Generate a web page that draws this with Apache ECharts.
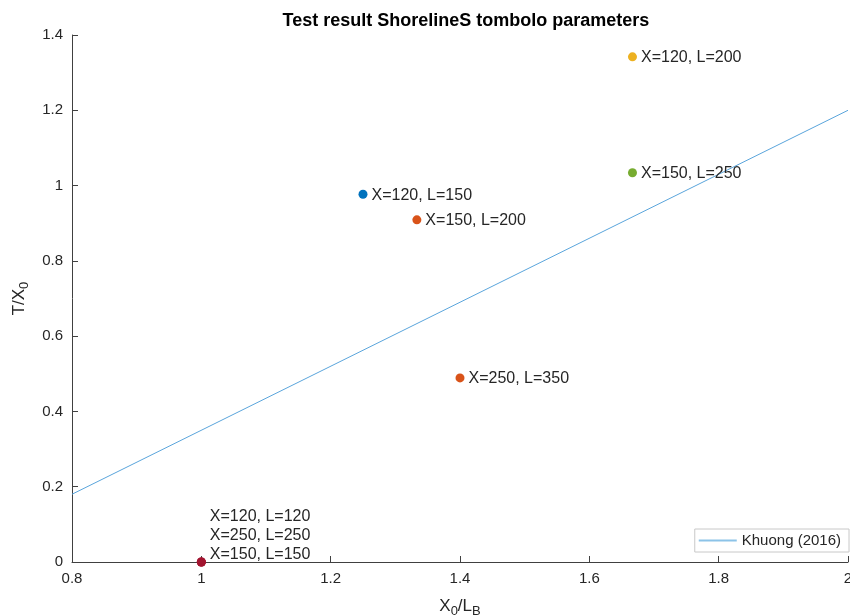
<!DOCTYPE html>
<html>
<head>
<meta charset="utf-8">
<script src="https://cdn.jsdelivr.net/npm/echarts@6/dist/echarts.min.js"></script>
<style>html,body{margin:0;padding:0;background:#fff}#c{width:850px;height:616px}</style>
</head>
<body>
<div id="c"></div>
<script>
// ---- data ----
const pointX = [1.25, 1.3333, 1.6667, 1.6667, 1.4, 1, 1, 1];
const pointY = [0.977, 0.909, 1.342, 1.034, 0.489, 0, 0, 0];
const pointLabels = ['X=120, L=150', 'X=150, L=200', 'X=120, L=200', 'X=150, L=250', 'X=250, L=350', 'X=150, L=150', 'X=250, L=250', 'X=120, L=120'];
const pointColors = ['#0072BD', '#D95319', '#EDB120', '#77AC30', '#D95319', '#A2142F', '#A2142F', '#A2142F'];
const lineName = 'Khuong (2016)';
const lineX = [0.8, 2];
const lineY = [0.18, 1.2];
const xTicks = {min: 0.8, max: 2, interval: 0.2};
const yTicks = {min: 0, max: 1.4, interval: 0.2};
const titleText = 'Test result ShorelineS tombolo parameters';

// ---- chart ----
const chart = echarts.init(document.getElementById('c'), null, {renderer: 'canvas'});
const FONT = 'Liberation Sans, Arial, Helvetica, sans-serif';
const TXT = '#262626';

// stack labels of coincident points upward
const seen = {};
const scatterData = pointX.map((x, i) => {
  const key = x + ',' + pointY[i];
  const k = seen[key] || 0;
  seen[key] = k + 1;
  const stacked = pointX.filter((xx, j) => xx === x && pointY[j] === pointY[i]).length > 1;
  return {
    value: [x, pointY[i]],
    itemStyle: {color: pointColors[i], opacity: 1},
    label: {
      show: true,
      formatter: pointLabels[i],
      position: 'right',
      distance: 4,
      offset: stacked ? [0, -7 - k * 19] : [0, 1]
    }
  };
});

chart.setOption({
  animation: false,
  backgroundColor: '#fff',
  title: {
    text: titleText,
    left: 461, top: 7, textAlign: 'center',
    textStyle: {fontFamily: FONT, fontSize: 18, fontWeight: 'bold', color: '#000'}
  },
  grid: {left: 72, right: 2, top: 35, bottom: 54, containLabel: false, outerBoundsMode: 'none'},
  legend: {
    right: 1, bottom: 64,
    data: [lineName],
    itemWidth: 38, itemHeight: 2, itemGap: 4,
    padding: [4, 8, 4, 4],
    borderColor: '#c8c8c8', borderWidth: 1, backgroundColor: '#fff',
    textStyle: {fontFamily: FONT, fontSize: 15, color: TXT},
    icon: 'rect'
  },
  xAxis: {
    type: 'value',
    min: xTicks.min, max: xTicks.max, interval: xTicks.interval,
    name: '{a|X}{s|0}{a|/L}{s|B}',
    nameLocation: 'middle', nameGap: 33,
    nameTextStyle: {
      rich: {
        a: {fontFamily: FONT, fontSize: 17, color: TXT},
        s: {fontFamily: FONT, fontSize: 13, color: TXT, verticalAlign: 'bottom', padding: [10, 0, 0, 0]}
      }
    },
    axisLine: {show: true, onZero: false, lineStyle: {color: '#404040', width: 1}},
    axisTick: {show: true, inside: true, length: 6, lineStyle: {color: '#404040'}},
    splitLine: {show: false},
    axisLabel: {fontFamily: FONT, fontSize: 15, color: TXT, margin: 9,
      formatter: v => String(Math.round(v * 10) / 10)}
  },
  yAxis: {
    type: 'value',
    min: yTicks.min, max: yTicks.max, interval: yTicks.interval,
    name: '{a|T/X}{s|0}',
    nameLocation: 'middle', nameGap: 40, nameRotate: 90,
    nameTextStyle: {
      rich: {
        a: {fontFamily: FONT, fontSize: 17, color: TXT},
        s: {fontFamily: FONT, fontSize: 13, color: TXT, verticalAlign: 'bottom', padding: [10, 0, 0, 0]}
      }
    },
    axisLine: {show: true, onZero: false, lineStyle: {color: '#404040', width: 1}},
    axisTick: {show: true, inside: true, length: 6, lineStyle: {color: '#404040'}},
    splitLine: {show: false},
    axisLabel: {fontFamily: FONT, fontSize: 15, color: TXT, margin: 9,
      formatter: v => String(Math.round(v * 10) / 10)}
  },
  series: [
    {
      name: lineName,
      type: 'line',
      data: lineX.map((x, i) => [x, lineY[i]]),
      showSymbol: false,
      lineStyle: {color: '#5aa5dc', width: 1},
      itemStyle: {color: '#8cc3e8'},
      z: 2
    },
    {
      name: 'points',
      type: 'scatter',
      data: scatterData,
      symbolSize: 9,
      clip: false,
      label: {fontFamily: FONT, fontSize: 16, color: TXT},
      z: 3
    }
  ]
});
</script>
</body>
</html>
